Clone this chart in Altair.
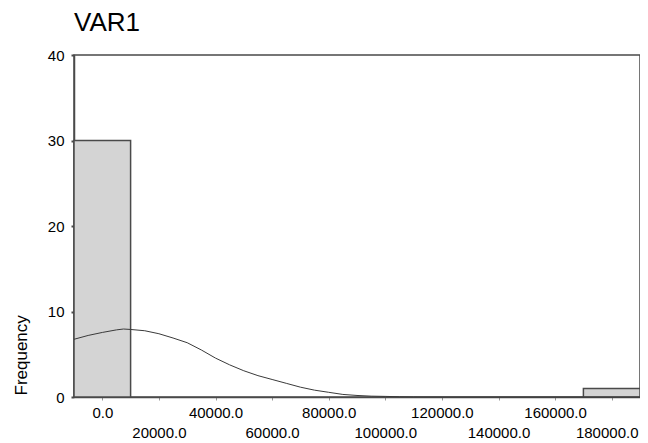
import altair as alt
import pandas as pd

# Histogram bins (centres) and counts
bin_centers = [0, 20000, 40000, 60000, 80000, 100000, 120000, 140000, 160000, 180000]
bin_counts = [30, 0, 0, 0, 0, 0, 0, 0, 0, 1]
BIN_WIDTH = 20000

# Fitted normal curve
curve_x = [-10000, -5000, 0, 5000, 7500, 10000, 15000, 20000, 25000, 30000, 35000,
           40000, 45000, 50000, 55000, 60000, 65000, 70000, 75000, 80000, 85000,
           90000, 95000, 100000, 105000, 110000, 120000, 190000]
curve_y = [6.75, 7.2, 7.55, 7.85, 7.95, 7.9, 7.75, 7.4, 6.9, 6.35, 5.5,
           4.55, 3.76, 3.07, 2.5, 2.05, 1.6, 1.15, 0.8, 0.55, 0.3,
           0.18, 0.1, 0.07, 0.03, 0.01, 0.0, 0.0]

x_ticks = [0, 20000, 40000, 60000, 80000, 100000, 120000, 140000, 160000, 180000]
y_ticks = [0, 10, 20, 30, 40]

FONT = "Liberation Sans"
DARK = "#4a4a4a"

bars = pd.DataFrame({"center": bin_centers, "count": bin_counts})
bars["start"] = bars["center"] - BIN_WIDTH / 2
bars["end"] = bars["center"] + BIN_WIDTH / 2
bars = bars[bars["count"] > 0]

curve = pd.DataFrame({"x": curve_x, "y": curve_y})

x_scale = alt.Scale(domain=[-10000, 190000], nice=False, zero=False)
y_scale = alt.Scale(domain=[0, 40], nice=False)

x_axis = alt.Axis(
    values=x_ticks, format=".1f", title=None, grid=False,
    labelFont=FONT, labelFontSize=15, labelColor="black",
    labelFlush=False, labelOverlap=False,
    labelPadding={"condition": {"test": "datum.value % 40000 !== 0", "value": 25}, "value": 5},
    labelOffset={"condition": {"test": "datum.value === 180000", "value": -5}, "value": 0},
    tickSize=3, tickColor="#999999", tickWidth=1,
    domainColor=DARK, domainWidth=1.5,
)
y_axis = alt.Axis(
    values=y_ticks, title="Frequency", grid=False,
    labelFont=FONT, labelFontSize=15, labelColor="black", labelPadding=7,
    tickSize=3, tickColor=DARK, tickWidth=2,
    domainColor=DARK, domainWidth=1.5,
    titleFont=FONT, titleFontSize=17, titleFontWeight="normal", titleColor="black",
    titleAngle=270, titleAlign="left", titleBaseline="middle",
    titleX=-52.5, titleY=340,
)

bar = alt.Chart(bars).mark_bar(fill="#d4d4d4", stroke=DARK, strokeWidth=1.5).encode(
    x=alt.X("start:Q", scale=x_scale, axis=x_axis),
    x2="end:Q",
    y=alt.Y("count:Q", scale=y_scale, axis=y_axis),
    y2=alt.datum(0),
)

line = alt.Chart(curve).mark_line(color="#3a3a3a", strokeWidth=1).encode(
    x=alt.X("x:Q", scale=x_scale),
    y=alt.Y("y:Q", scale=y_scale),
)

chart = alt.layer(bar, line).properties(
    width=566, height=342,
    title=alt.Title("VAR1", font=FONT, fontSize=26, fontWeight="normal", color="black",
                    anchor="start", frame="group", offset=12),
    padding={"left": 66, "top": 47, "right": 0, "bottom": 48},
    autosize=alt.AutoSizeParams(type="none"),
).configure_view(stroke=DARK, strokeWidth=1.5)

chart.save("out.html", embed_options={"renderer": "svg", "actions": False})
